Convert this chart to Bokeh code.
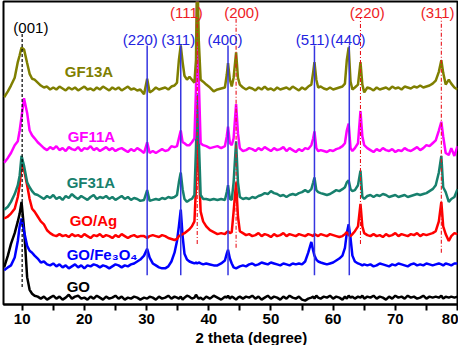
from bokeh.plotting import figure
from bokeh.models import Range1d, FixedTicker, Label, Title
from bokeh.embed import file_html
from bokeh.resources import INLINE

# ---------------- data (intensity in a.u. incl. stacking offset)
two_theta = [
    7.1, 7.7, 8.2, 8.8, 9.3, 9.6, 9.9, 10.3, 10.8, 11.2, 11.6, 12.0, 12.5,
    13.0, 13.5, 14.0, 14.5, 15.0, 15.5, 16.0, 16.5, 17.0, 17.5, 18.0, 18.5, 19.0, 19.5, 20.0, 20.5,
    21.0, 21.5, 22.0, 22.5, 23.0, 23.5, 24.0, 24.5, 25.0, 25.5, 26.0, 26.5, 27.0, 27.5, 28.0, 28.5, 29.0,
    29.6, 30.1, 30.5,
    31.0, 31.5, 32.0, 32.5, 33.0, 33.5, 34.0, 34.5,
    34.9, 35.2, 35.5, 35.8, 36.1, 36.5, 36.9, 37.3, 37.7, 37.95, 38.15, 38.4, 38.7, 39.1, 39.6, 40.2,
    40.8, 41.4, 42.0, 42.6, 42.9, 43.1, 43.4, 43.7, 44.0, 44.4, 44.7, 45.0,
    45.5, 46.0, 46.5, 47.0, 47.5, 48.0, 48.5, 49.0, 49.5, 50.0, 50.5, 51.0, 51.5, 52.0, 52.5, 53.0,
    53.5, 54.0, 54.5, 55.0, 55.5, 56.0,
    56.5, 56.8, 57.0, 57.3, 57.6,
    58.0, 58.5, 59.0, 59.5, 60.0, 60.5, 61.0, 61.5,
    61.9, 62.2, 62.5, 62.8, 63.1,
    63.5, 64.0, 64.4, 64.7, 65.0,
    65.5, 66.0, 66.5, 67.0, 67.5, 68.0, 68.5, 69.0, 69.5, 70.0, 70.5, 71.0, 71.5, 72.0, 72.5, 73.0,
    73.5, 74.0, 74.5, 75.0, 75.5, 76.0, 76.5,
    77.0, 77.4, 77.7, 78.1, 78.6, 79.0, 79.5, 80.0,
]

gf13a = [
    212, 218, 224, 232, 248, 255, 263, 261, 247, 236, 231, 230, 227,
    224, 222, 223, 220, 222, 220, 223, 221, 219, 222, 220, 222, 219, 221, 223, 220, 221, 219, 222, 220,
    223, 221, 219, 222, 220, 222, 219, 221, 223, 220, 221, 219, 220,
    215, 231, 217,
    219, 222, 220, 221, 222, 220, 223, 224,
    227, 250, 265, 248, 234, 230, 233, 230, 227, 250, 350, 270, 230, 228, 225, 222, 218, 220, 221, 222,
    235, 247, 230, 223, 232, 258, 232, 225,
    222, 220, 222, 221, 219, 222, 220, 223, 220, 221, 219, 222, 220, 221, 222, 220, 223, 221, 219, 222,
    220, 223,
    225, 238, 248, 230, 222,
    223, 221, 220, 222, 220, 221, 222, 223,
    226, 250, 263, 228, 220,
    222, 225, 248, 225, 217,
    222, 221, 219, 222, 220, 221, 222, 220, 223, 221, 222, 220, 223, 222, 221, 223, 222, 224, 222, 223,
    224, 226, 229,
    238, 250, 237, 225, 230, 226, 222, 220,
]

gf11a = [
    145, 150, 155, 163, 167, 178, 192, 211, 196, 178, 173, 170, 166,
    163, 160, 158, 161, 159, 162, 158, 160, 157, 161, 159, 158, 161, 157, 160, 159, 162, 158, 160, 157,
    159, 161, 158, 160, 157, 159, 160, 158, 156, 159, 157, 160, 158,
    155, 166, 155,
    157, 155, 157, 159, 157, 158, 162, 161,
    162, 170, 178, 166, 165, 163, 163, 166, 170, 220, 320, 230, 165, 163, 162, 160, 161, 162, 160, 162,
    172, 182, 165, 163, 170, 205, 175, 160,
    157, 158, 160, 159, 157, 160, 158, 161, 159, 157, 160, 158, 159, 161, 157, 160, 158, 156, 159, 157,
    160, 159,
    163, 170, 177, 160, 157,
    158, 157, 156, 158, 157, 159, 160, 162,
    165, 178, 185, 160, 157,
    160, 165, 198, 172, 163,
    160, 158, 156, 159, 157, 160, 158, 157, 159, 156, 158, 157, 160, 158, 157, 159, 161, 158, 160, 163,
    162, 165, 168,
    178, 187, 172, 155, 153, 160, 152, 162,
]

gf31a = [
    97, 100, 105, 113, 122, 132, 152, 142, 125, 120, 116, 113, 112,
    110, 108, 111, 109, 112, 108, 110, 107, 111, 109, 113, 110, 108, 111, 109, 107, 110, 112, 108, 110,
    109, 111, 108, 110, 107, 109, 111, 108, 110, 107, 109, 108, 106,
    107, 117, 106,
    107, 108, 107, 109, 108, 110, 109, 110,
    112, 125, 135, 118, 108, 105, 107, 108, 112, 160, 215, 170, 112, 108, 108, 107, 108, 107, 108, 107,
    115, 122, 108, 107, 125, 167, 125, 110,
    108, 109, 108, 110, 109, 111, 112, 114, 113, 116, 114, 113, 111, 112, 110, 112, 113, 112, 114, 115,
    117, 115,
    118, 125, 130, 117, 115,
    114, 113, 112, 113, 115, 117, 116, 118,
    120, 125, 127, 118, 116,
    117, 122, 137, 110, 108,
    111, 112, 110, 112, 111, 113, 112, 110, 111, 112, 110, 111, 112, 110, 111, 112, 113, 112, 113, 114,
    116, 118, 122,
    135, 152, 120, 115, 105, 108, 110, 118,
]

go_ag = [
    88, 90, 93, 98, 110, 122, 143, 138, 122, 108, 98, 95, 90,
    85, 82, 76, 73, 71, 70, 72, 70, 71, 69, 72, 70, 71, 69, 72, 70, 68, 71, 70, 72,
    69, 71, 70, 68, 71, 69, 72, 70, 68, 70, 71, 69, 70,
    70, 68, 70,
    71, 70, 69, 71, 70, 68, 67, 66,
    67, 70, 71, 72, 73, 75, 77, 80, 85, 120, 185, 140, 95, 85, 80, 76, 74, 72, 73, 72,
    74, 75, 73, 74, 95, 125, 90, 75,
    73, 71, 72, 70, 71, 73, 70, 72, 71, 69, 72, 70, 71, 73, 70, 72, 71, 70, 72, 71,
    70, 72,
    71, 70, 72, 71, 70,
    72, 71, 70, 72, 71, 70, 69, 70,
    72, 74, 71, 70, 72,
    75, 80, 103, 80, 73,
    71, 70, 72, 70, 71, 69, 72, 70, 71, 73, 70, 72, 71, 70, 72, 71, 73, 70, 72, 71,
    72, 73, 75,
    85, 105, 80, 72, 65, 70, 73, 72,
]

go_fe3o4 = [
    35, 38, 40, 48, 65, 80, 88, 75, 60, 55, 53, 50, 47,
    43, 44, 41, 40, 42, 39, 41, 38, 40, 37, 39, 41, 38, 40, 37, 40, 39, 41, 40, 38,
    40, 39, 37, 39, 41, 40, 38, 40, 39, 41, 42, 44, 46,
    50, 57, 48,
    42, 40, 38, 37, 37, 39, 44, 53,
    65, 80, 97, 70, 52, 46, 44, 43, 42, 43, 42, 43, 42, 41, 42, 41, 40, 40, 42, 45,
    52, 56, 47, 42, 38, 37, 38, 39,
    40, 39, 41, 42, 40, 41, 43, 42, 41, 43, 42, 41, 40, 42, 41, 40, 42, 41, 42, 41,
    44, 53,
    64, 55, 50, 46, 44,
    43, 42, 41, 42, 43, 45, 47, 50,
    58, 73, 82, 68, 50,
    44, 42, 41, 40, 41,
    40, 41, 39, 40, 42, 41, 40, 39, 41, 40, 42, 41, 40, 39, 41, 42, 40, 41, 40, 42,
    41, 40, 41,
    42, 41, 40, 42, 41, 40, 42, 42,
]

go = [
    38, 50, 62, 73, 85, 93, 105, 78, 28, 15, 11, 9, 8,
    6, 8, 5, 7, 9, 6, 8, 5, 7, 10, 6, 8, 9, 6, 7, 5, 8, 6, 9, 7,
    5, 8, 6, 7, 9, 6, 8, 5, 7, 6, 8, 7, 5,
    7, 6, 8,
    7, 5, 8, 6, 7, 9, 6, 8,
    7, 6, 8, 5, 7, 9, 8, 6, 7, 10, 8, 6, 7, 5, 8, 6, 9, 7, 5, 8,
    7, 9, 6, 8, 7, 5, 7, 8,
    6, 8, 7, 9, 6, 8, 5, 7, 9, 6, 8, 7, 5, 8, 6, 9, 7, 6, 8, 5,
    4, 6,
    7, 8, 6, 9, 7,
    6, 8, 7, 9, 6, 8, 7, 5,
    8, 6, 9, 7, 8,
    6, 8, 7, 9, 6,
    8, 7, 9, 6, 8, 7, 5, 8, 6, 9, 7, 8, 6, 9, 7, 8, 6, 7, 9, 6,
    8, 7, 8,
    7, 9, 6, 8, 7, 8, 7, 8,
]

series_names = ["GO", "GO/Fe\u2083O\u2084", "GO/Ag", "GF31A", "GF11A", "GF13A"]
series_values = [go, go_fe3o4, go_ag, gf31a, gf11a, gf13a]

go_peak = [10.0]
go_hkl = ["(001)"]
fe3o4_peaks = [30.1, 35.5, 43.1, 57.0, 62.6]
fe3o4_hkl = ["(220)", "(311)", "(400)", "(511)", "(440)"]
ag_peaks = [38.15, 44.4, 64.4, 77.4]
ag_hkl = ["(111)", "(200)", "(220)", "(311)"]

x_title = "2 theta (degree)"
tick_values = [10, 20, 30, 40, 50, 60, 70, 80]
tick_labels = ["10", "20", "30", "40", "50", "60", "70", "80"]
minor_tick_values = [15, 25, 35, 45, 55, 65, 75]

for vals in series_values:
    if len(vals) != len(two_theta):
        raise ValueError("length mismatch %d vs %d" % (len(vals), len(two_theta)))

# ---------------- styles / layout
colors = ["#000000", "#0000ff", "#ff0000", "#17806d", "#ff00ff", "#7f7f00"]
name_pos = [(17.16, 18), (17.16, 51), (17.64, 86), (17.16, 124.5), (17.32, 172), (16.85, 238)]
FONT = "Liberation Sans"

p = figure(width=458, height=345, output_backend="svg", toolbar_location=None,
           x_range=Range1d(7.0, 80), y_range=Range1d(0, 310),
           min_border_left=3, min_border_right=1, min_border_top=1, min_border_bottom=0)
p.xgrid.visible = False
p.ygrid.visible = False
p.yaxis.visible = False
p.outline_line_color = "black"
p.outline_line_width = 2
p.background_fill_color = "white"
p.border_fill_color = "white"

ax = p.xaxis[0]
ax.ticker = FixedTicker(ticks=tick_values, minor_ticks=minor_tick_values)
ax.major_label_overrides = {t: l for t, l in zip(tick_values, tick_labels)}
ax.axis_line_width = 2
ax.axis_line_color = "black"
ax.major_tick_in = 0
ax.major_tick_out = 6
ax.minor_tick_in = 0
ax.minor_tick_out = 6
ax.major_tick_line_width = 2
ax.minor_tick_line_width = 2
ax.major_label_text_font = FONT
ax.major_label_text_font_style = "bold"
ax.major_label_text_font_size = "15px"
ax.major_label_text_color = "black"
ax.major_label_standoff = 3

# axis title as a below-panel title so it can sit right of centre like the reference
p.add_layout(Title(text=x_title, align="left", offset=192, text_font=FONT,
                   text_font_style="bold", text_font_size="15px", text_color="black",
                   standoff=0), "below")

for vals, col in zip(series_values, colors):
    p.line(two_theta, vals, line_color=col, line_width=2.5)

# reference lines
p.segment(x0=go_peak, x1=go_peak, y0=[18] * len(go_peak), y1=[277] * len(go_peak),
          line_color="black", line_width=1.2, line_dash="3 2")
p.segment(x0=fe3o4_peaks, x1=fe3o4_peaks, y0=[30] * len(fe3o4_peaks), y1=[265] * len(fe3o4_peaks),
          line_color="#3535e0", line_width=1.5)
ag_bottom = [62, 58, 62, 53]
p.segment(x0=ag_peaks, x1=ag_peaks, y0=ag_bottom, y1=[293] * len(ag_peaks),
          line_color="#e8141c", line_width=1.1, line_dash="4 2 1 2")

# series names
for name, col, (lx, ly) in zip(series_names, colors, name_pos):
    p.add_layout(Label(x=lx, y=ly, text=name, text_color=col, text_font=FONT,
                       text_font_style="bold", text_font_size="15px",
                       text_align="left", text_baseline="middle"))

# hkl labels
go_lab_x = [11.4]
fe_lab_x = [29.0, 35.1, 42.6, 56.7, 62.4]
ag_lab_x = [36.4, 45.3, 65.5, 76.8]
for t, lx in zip(go_hkl, go_lab_x):
    p.add_layout(Label(x=lx, y=283, text=t, text_color="black", text_font=FONT,
                       text_font_size="15px", text_align="center", text_baseline="middle"))
for t, lx in zip(fe3o4_hkl, fe_lab_x):
    p.add_layout(Label(x=lx, y=271, text=t, text_color="#2323e0", text_font=FONT,
                       text_font_size="15px", text_align="center", text_baseline="middle"))
for t, lx in zip(ag_hkl, ag_lab_x):
    p.add_layout(Label(x=lx, y=299, text=t, text_color="#ee1c24", text_font=FONT,
                       text_font_size="15px", text_align="center", text_baseline="middle"))

open("out.html", "w").write(file_html(p, INLINE))
